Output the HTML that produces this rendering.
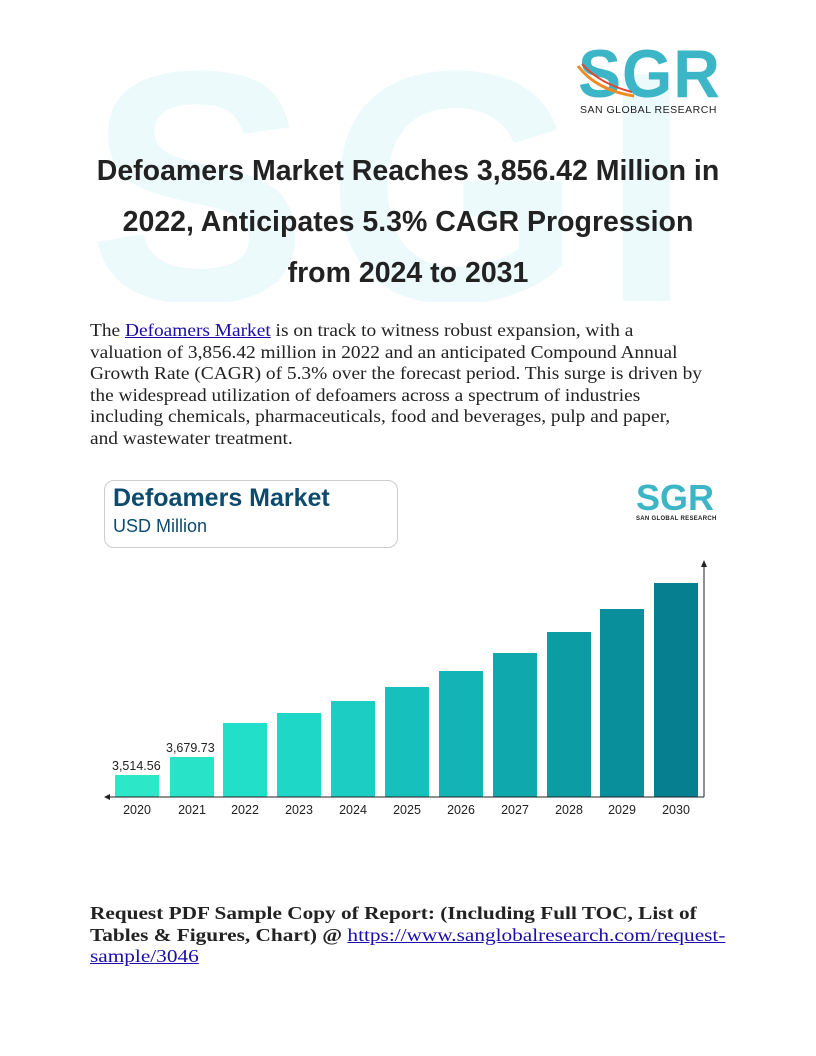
<!DOCTYPE html>
<html><head><meta charset="utf-8"><style>
body{margin:0;background:#fff;width:816px;height:1056px;position:relative;overflow:hidden;font-family:"Liberation Sans",sans-serif}
.abs{position:absolute}
.wm{left:80px;top:62px;width:590px;height:240px;overflow:hidden}
.wm span{position:absolute;left:8px;top:-40px;font:bold 330px/1 "Liberation Sans",sans-serif;color:#ecfafc;letter-spacing:18px}
.title{left:40px;width:736px;top:146px;text-align:center;font-weight:bold;font-size:28.5px;line-height:51px;color:#222}
.body{left:90px;top:320px;font-family:"Liberation Serif",serif;font-size:18.2px;line-height:21.5px;color:#222;white-space:nowrap;transform:scaleX(1.065);transform-origin:left top}
a{color:#1a0dab;text-decoration:underline}
.yr{position:absolute;top:803px;font-size:12.5px;color:#222;width:54px;text-align:center}
.bar{position:absolute;width:44px}
</style></head><body>
<div class="abs wm"><span>SGR</span></div>
<div class="abs" style="left:578px;top:40px;font:bold 68px/1 'Liberation Sans',sans-serif;color:#3cb6c6;letter-spacing:1px;transform:scaleX(0.95);transform-origin:left">SGR</div>
<svg class="abs" style="left:576px;top:60px" width="60" height="40"><path d="M2 6 Q20 30 58 36" stroke="#f08a24" stroke-width="3" fill="none"/><path d="M6 4 Q24 24 56 32" stroke="#e2462b" stroke-width="2" fill="none"/></svg>
<div class="abs" style="left:580px;top:104px;font-size:10.5px;letter-spacing:0.5px;color:#222">SAN GLOBAL RESEARCH</div>
<div class="abs title">Defoamers Market Reaches 3,856.42 Million in<br>2022, Anticipates 5.3% CAGR Progression<br>from 2024 to 2031</div>
<div class="abs body">The <a>Defoamers Market</a> is on track to witness robust expansion, with a<br>valuation of 3,856.42 million in 2022 and an anticipated Compound Annual<br>Growth Rate (CAGR) of 5.3% over the forecast period. This surge is driven by<br>the widespread utilization of defoamers across a spectrum of industries<br>including chemicals, pharmaceuticals, food and beverages, pulp and paper,<br>and wastewater treatment.</div>

<div class="abs" style="left:104px;top:480px;width:292px;height:66px;border:1px solid #ccc;border-radius:10px"></div>
<div class="abs" style="left:113px;top:484px;font-weight:bold;font-size:25px;color:#0c4a6e">Defoamers Market</div>
<div class="abs" style="left:113px;top:516px;font-size:18px;color:#0c4a6e">USD Million</div>
<div class="abs" style="left:636px;top:480px;font:bold 36px/1 'Liberation Sans',sans-serif;color:#3cb6c6">SGR</div>
<div class="abs" style="left:636px;top:516px;font-size:6px;font-weight:bold;color:#222;letter-spacing:.3px">SAN GLOBAL RESEARCH</div>

<div class="bar" style="left:115px;top:775px;height:22px;background:#2de8c8"></div>
<div class="bar" style="left:170px;top:757px;height:40px;background:#29e3c8"></div>
<div class="bar" style="left:223px;top:723px;height:74px;background:#22dfc9"></div>
<div class="bar" style="left:277px;top:713px;height:84px;background:#1fd7c7"></div>
<div class="bar" style="left:331px;top:701px;height:96px;background:#1bcdc2"></div>
<div class="bar" style="left:385px;top:687px;height:110px;background:#16c0bc"></div>
<div class="bar" style="left:439px;top:671px;height:126px;background:#12b4b6"></div>
<div class="bar" style="left:493px;top:653px;height:144px;background:#0fa8ad"></div>
<div class="bar" style="left:547px;top:632px;height:165px;background:#0c9ca4"></div>
<div class="bar" style="left:600px;top:609px;height:188px;background:#098e9b"></div>
<div class="bar" style="left:654px;top:583px;height:214px;background:#067f91"></div>
<div class="abs" style="left:112px;top:759px;font-size:12.5px;color:#222">3,514.56</div>
<div class="abs" style="left:166px;top:741px;font-size:12.5px;color:#222">3,679.73</div>
<svg class="abs" style="left:100px;top:558px" width="612" height="244"><line x1="6" y1="239" x2="604" y2="239" stroke="#222" stroke-width="1"/><path d="M4 239 L10 236 L10 242Z" fill="#222"/><line x1="604" y1="6" x2="604" y2="239" stroke="#222" stroke-width="1"/><path d="M604 2 L601 9 L607 9Z" fill="#222"/></svg>
<div class="yr" style="left:110px">2020</div><div class="yr" style="left:165px">2021</div><div class="yr" style="left:218px">2022</div><div class="yr" style="left:272px">2023</div><div class="yr" style="left:326px">2024</div><div class="yr" style="left:380px">2025</div><div class="yr" style="left:434px">2026</div><div class="yr" style="left:488px">2027</div><div class="yr" style="left:542px">2028</div><div class="yr" style="left:595px">2029</div><div class="yr" style="left:649px">2030</div>

<div class="abs" style="left:90px;top:903px;font-family:'Liberation Serif',serif;font-size:18.2px;line-height:21.5px;color:#222;white-space:nowrap;transform:scaleX(1.17);transform-origin:left top"><b>Request PDF Sample Copy of Report: (Including Full TOC, List of<br>Tables &amp; Figures, Chart) @</b> <a>https://www.sanglobalresearch.com/request-</a><br><a>sample/3046</a></div>
</body></html>
